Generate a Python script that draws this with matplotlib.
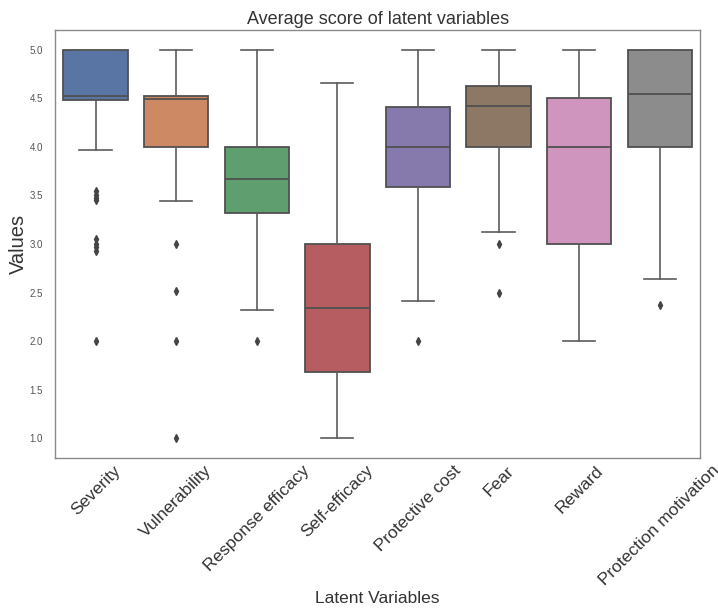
import colorsys
import matplotlib
matplotlib.use('Agg')
import matplotlib.pyplot as plt
import matplotlib.colors as mcolors

plt.rcParams['font.family'] = ['Liberation Sans', 'DejaVu Sans']

# box statistics
labels = ['Severity', 'Vulnerability', 'Response efficacy', 'Self-efficacy',
          'Protective cost', 'Fear', 'Reward', 'Protection motivation']
q1 = [4.48, 4.00, 3.32, 1.68, 3.59, 4.00, 3.00, 4.00]
med = [4.52, 4.49, 3.67, 2.34, 4.00, 4.42, 4.00, 4.55]
q3 = [5.00, 4.52, 4.00, 3.00, 4.41, 4.63, 4.50, 5.00]
whislo = [3.97, 3.44, 2.32, 1.00, 2.41, 3.12, 2.00, 2.64]
whishi = [5.00, 5.00, 5.00, 4.66, 5.00, 5.00, 5.00, 5.00]
fliers = [[3.55, 3.50, 3.47, 3.45, 3.05, 3.00, 2.97, 2.93, 2.00],
          [3.00, 2.52, 2.00, 1.00],
          [2.00],
          [],
          [2.00],
          [3.00, 2.49],
          [],
          [2.37]]

deep = ['#4C72B0', '#DD8452', '#55A868', '#C44E52',
        '#8172B3', '#937860', '#DA8BC3', '#8C8C8C']


def desat(c, prop=0.75):
    r, g, b = mcolors.to_rgb(c)
    h, l, s = colorsys.rgb_to_hls(r, g, b)
    return colorsys.hls_to_rgb(h, l, s * prop)


colors = [desat(c) for c in deep]
line_col = '#5c5c5c'

stats = []
for i in range(len(labels)):
    stats.append(dict(label=labels[i], q1=q1[i], med=med[i], q3=q3[i],
                      whislo=whislo[i], whishi=whishi[i], fliers=fliers[i]))

fig = plt.figure(figsize=(7.18, 6.10), dpi=100)
ax = fig.add_axes([0.077, 0.249, 0.898, 0.702])

bp = ax.bxp(stats, positions=range(len(labels)), widths=0.8, patch_artist=True,
            boxprops=dict(edgecolor='#505050', linewidth=1.3),
            medianprops=dict(color='#505050', linewidth=1.3),
            whiskerprops=dict(color=line_col, linewidth=1.2),
            capprops=dict(color=line_col, linewidth=1.2),
            flierprops=dict(marker='d', markerfacecolor='#444444',
                            markeredgecolor='#444444', markersize=4))
for patch, c in zip(bp['boxes'], colors):
    patch.set_facecolor(c)

ax.set_xlim(-0.5, 7.5)
ax.set_ylim(0.794, 5.206)
ax.set_yticks([1.0, 1.5, 2.0, 2.5, 3.0, 3.5, 4.0, 4.5, 5.0])
ax.set_yticklabels(['1.0', '1.5', '2.0', '2.5', '3.0', '3.5', '4.0', '4.5', '5.0'])
ax.tick_params(axis='y', length=0, labelsize=7, labelcolor='#555555', pad=9)
ax.tick_params(axis='x', length=0, labelsize=12.5, labelcolor='#333333')
plt.setp(ax.get_xticklabels(), rotation=45)

for s in ax.spines.values():
    s.set_color('#8a8a8a')
    s.set_linewidth(1.0)

ax.set_title('Average score of latent variables', fontsize=13, color='#333333', pad=4)
ax.set_ylabel('Values', fontsize=14.5, color='#333333')
ax.yaxis.set_label_coords(-0.042, 0.5)
ax.set_xlabel('Latent Variables', fontsize=12.5, color='#333333', labelpad=2)

fig.savefig('out.png', dpi=100)
